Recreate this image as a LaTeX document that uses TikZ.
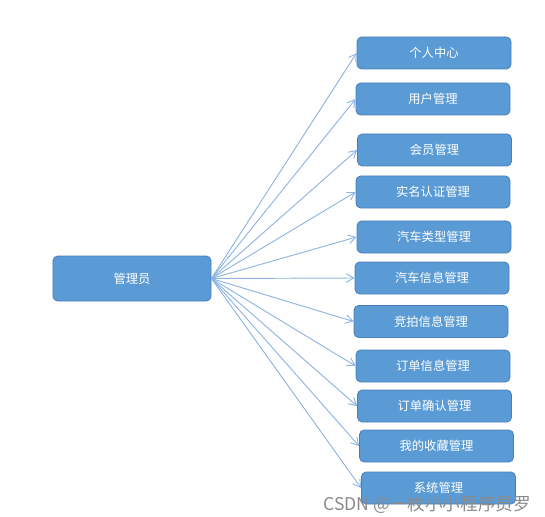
\documentclass[tikz,border=0pt]{standalone}
\usepackage{fontspec}
\setmainfont{Noto Sans CJK SC}
\usetikzlibrary{arrows.meta}
\definecolor{boxBlue}{HTML}{5B9BD5}
\definecolor{boxEdge}{HTML}{4A7EBB}
\definecolor{linkBlue}{HTML}{8EB4E3}
\definecolor{markGray}{HTML}{8A8A8A}
\tikzset{
  rolebox/.style={draw=boxEdge,fill=boxBlue,rounded corners=4pt,line width=0.7pt,
    minimum width=4.74cm,minimum height=1.35cm,text=white,
    font=\fontsize{10.5}{12}\selectfont},
  menubox/.style={draw=boxEdge,fill=boxBlue,rounded corners=4pt,line width=0.7pt,
    minimum width=4.62cm,minimum height=0.96cm,text=white,
    font=\fontsize{10.5}{12}\selectfont},
  link/.style={-{Straight Barb[length=2.2mm,width=2.6mm]},line width=0.8pt,draw=linkBlue},
  watermark/.style={font=\fontsize{15}{17}\selectfont,text=markGray,inner sep=0pt}
}
\begin{document}
\begin{tikzpicture}[x=0.03cm,y=-0.03cm]
  \useasboundingbox (0,0) rectangle (545,516);

  \node[rolebox] (admin) at (132,278.5) {管理员};

  \foreach \n/\cx/\cy/\txt in {1/434/53/个人中心,2/433/99/用户管理,3/434.5/150/会员管理,
      4/433/192/实名认证管理,5/434/237/汽车类型管理,6/432/278/汽车信息管理,
      7/431/321.5/竞拍信息管理,8/433/366/订单信息管理,9/434.5/406/订单确认管理,
      10/436.5/446/我的收藏管理,11/438.5/488/系统管理} {
    \node[menubox] (m\n) at (\cx,\cy) {\txt};
    \draw[link] (admin.east) -- (m\n.west);
  }

  \node[watermark, anchor=east] (mark) at (531,505) {CSDN @一枚小小程序员罗};
\end{tikzpicture}
\end{document}
